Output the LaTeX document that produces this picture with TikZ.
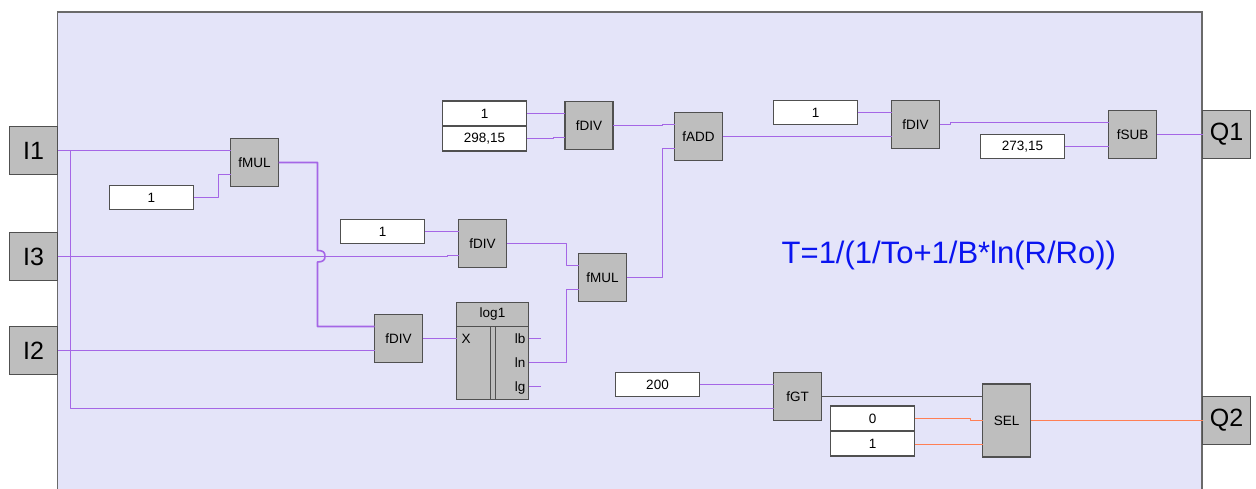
\documentclass[tikz,border=0pt]{standalone}
\usepackage{fontspec}
\setmainfont{Liberation Sans}
\usetikzlibrary{calc}
\definecolor{panel}{HTML}{E4E4F9}
\definecolor{blockgray}{HTML}{BEBEBE}
\definecolor{edge}{HTML}{505050}
\definecolor{wirep}{HTML}{A566E6}
\definecolor{wireo}{HTML}{FF7F55}
\definecolor{formula}{HTML}{0A14F0}
\tikzset{
  base/.style={draw=edge,line width=1.1pt,outer sep=0pt,inner sep=0pt,align=center},
  fblock/.style={base,fill=blockgray,minimum width=48pt,minimum height=48pt,font=\fontsize{13.5}{15}\selectfont},
  pin/.style={base,fill=blockgray,minimum width=48pt,minimum height=48pt,font=\fontsize{25}{30}\selectfont},
  const/.style={base,fill=white,minimum width=84pt,minimum height=24pt,font=\fontsize{13.5}{15}\selectfont},
  stacked/.style={minimum height=25pt},
  wire/.style={draw=wirep,line width=1.6pt,line join=round},
  owire/.style={draw=wireo,line width=1.6pt,line join=round},
  gwire/.style={draw=edge,line width=1.6pt},
  portlabel/.style={inner sep=0pt,font=\fontsize{13.5}{15}\selectfont},
}
\begin{document}
\begin{tikzpicture}[x=1pt,y=-1pt]
\useasboundingbox (0,0) rectangle (1256,489);
\fill[white] (0,0) rectangle (1256,489);
\fill[panel] (57.5,12) rectangle (1202,489);
\draw[draw=edge!85,line width=1.2pt] (57.5,489) -- (57.5,12) -- (1202,12) -- (1202,489);

% pins
\node[pin] (i1) at (33.5,150.5) {I1};
\node[pin] (i3) at (33.5,256.5) {I3};
\node[pin] (i2) at (33.5,350.5) {I2};
\node[pin] (q1) at (1226.5,134.5) {Q1};
\node[pin] (q2) at (1226.5,420.5) {Q2};

% constants
\node[const] (c1a) at (151.5,197.5) {1};
\node[const] (c1b) at (382.5,231.5) {1};
\node[const,stacked] (c1c) at (484.5,113.5) {1};
\node[const,stacked] (c298) at (484.5,138.5) {298,15};
\node[const] (c1d) at (815.5,112.5) {1};
\node[const] (c273) at (1022.5,146.5) {273,15};
\node[const] (c200) at (657.5,384.5) {200};
\node[const,stacked] (c0) at (872.5,418.5) {0};
\node[const,stacked] (c1e) at (872.5,443.5) {1};

% function blocks
\node[fblock] (fmula) at (254.5,162.5) {fMUL};
\node[fblock] (fdiva) at (398.5,338.5) {fDIV};
\node[fblock] (fdivb) at (482.5,243.5) {fDIV};
\node[fblock] (fmulb) at (602.5,277.5) {fMUL};
\node[fblock] (fdivc) at (589,125.5) {fDIV};
\node[fblock] (fadd) at (698.5,136.5) {fADD};
\node[fblock] (fdivd) at (915.5,124.5) {fDIV};
\node[fblock] (fsub) at (1132.5,134.5) {fSUB};
\node[fblock] (fgt) at (797.5,396.5) {fGT};
\node[fblock,minimum height=73pt] (sel) at (1006.5,420.5) {SEL};

% log1 block
\node[base,fill=blockgray,minimum width=72pt,minimum height=97pt] (log) at (492.5,351) {};
\draw[edge,line width=1.1pt] (456.5,326.5) -- (528.5,326.5);
\draw[edge,line width=1.1pt] (490.5,326.5) -- (490.5,399.5) (495.5,326.5) -- (495.5,399.5);
\node[portlabel] (logt) at (492.5,314.5) {log1};
\node[portlabel,anchor=base west] (logx) at (461.5,343.5) {X};
\node[portlabel,anchor=base east] (loglb) at (525.5,343.5) {lb};
\node[portlabel,anchor=base east] (logln) at (525.5,367.5) {ln};
\node[portlabel,anchor=base east] (loglg) at (525.5,391.5) {lg};

% formula
\node[inner sep=0pt,text=formula,font=\fontsize{31}{36}\selectfont,anchor=base west] (formula) at (781.5,263.5) {T=1/(1/To+1/B*ln(R/Ro))};

% free ends and bend columns
\coordinate (lbend) at (541,338.5);
\coordinate (lnp) at (528.5,362.5);
\coordinate (lgend) at (541,386.5);
\coordinate (busx) at (70.5,150.5);
\coordinate (kx) at (218.5,174.5);
\coordinate (mx) at (566.5,277.5);
\coordinate (ax) at (662.5,136.5);
\coordinate (ox) at (970.5,420.5);
\coordinate (i3step) at (447.5,256.5);
\coordinate (c298step) at (553.5,138.5);
\coordinate (dstep) at (950.5,124.5);

% wires
\draw[wire] (i1.east) -- ([yshift=12pt]fmula.west);
\draw[wire] (busx) -- (busx |- 0,408.5) -- ([yshift=-12pt]fgt.west);
\draw[wire] (c1a.east) -- (c1a.east -| kx) -- (kx) -- ([yshift=-12pt]fmula.west);
\draw[wire] (i3.east) -- (i3step) -- ([yshift=-12pt]fdivb.west -| i3step) -- ([yshift=-12pt]fdivb.west);
\draw[wire] (i2.east) -- ([yshift=-12pt]fdiva.west);
\draw[wire] (fmula.east) -- (317.5,162.5) -- (317.5,250.5)
  .. controls (323,250.5) and (325,252) .. (325,256.5)
  .. controls (325,260) and (323,262) .. (317.5,262)
  -- (317.5,326.5) -- ([yshift=12pt]fdiva.west);
\draw[wire] (c1b.east) -- ([yshift=12pt]fdivb.west);
\draw[wire] (fdivb.east) -- (fdivb.east -| mx) -- ([yshift=12pt]fmulb.west -| mx) -- ([yshift=12pt]fmulb.west);
\draw[wire] (lnp) -- (lnp -| mx) -- ([yshift=-12pt]fmulb.west -| mx) -- ([yshift=-12pt]fmulb.west);
\draw[wire] (fdiva.east) -- (log.west |- fdiva.east);
\draw[wire] (log.east |- lbend) -- (lbend);
\draw[wire] (log.east |- lgend) -- (lgend);
\draw[wire] (c1c.east) -- ([yshift=12pt]fdivc.west);
\draw[wire] (c298.east) -- (c298step) -- ([yshift=-12pt]fdivc.west -| c298step) -- ([yshift=-12pt]fdivc.west);
\draw[wire] (fdivc.east) -- (fdivc.east -| ax) -- ([yshift=12pt]fadd.west -| ax) -- ([yshift=12pt]fadd.west);
\draw[wire] (fmulb.east) -- (fmulb.east -| ax) -- ([yshift=-12pt]fadd.west -| ax) -- ([yshift=-12pt]fadd.west);
\draw[wire] (fadd.east) -- (fdivd.west |- fadd.east) -- ([yshift=-12pt]fdivd.west);
\draw[wire] (c1d.east) -- ([yshift=12pt]fdivd.west);
\draw[wire] (fdivd.east) -- (dstep) -- ([yshift=12pt]fsub.west -| dstep) -- ([yshift=12pt]fsub.west);
\draw[wire] (c273.east) -- ([yshift=-12pt]fsub.west);
\draw[wire] (fsub.east) -- (q1.west);
\draw[wire] (c200.east) -- ([yshift=12pt]fgt.west);
\draw[gwire] (fgt.east) -- (fgt.east -| sel.west);
\draw[owire] (c0.east) -- (c0.east -| ox) -- (ox) -- (sel.west);
\draw[owire] ([yshift=-24pt]sel.west -| c1e.east) -- ([yshift=-24pt]sel.west);
\draw[owire] (sel.east) -- (q2.west);
\end{tikzpicture}
\end{document}
